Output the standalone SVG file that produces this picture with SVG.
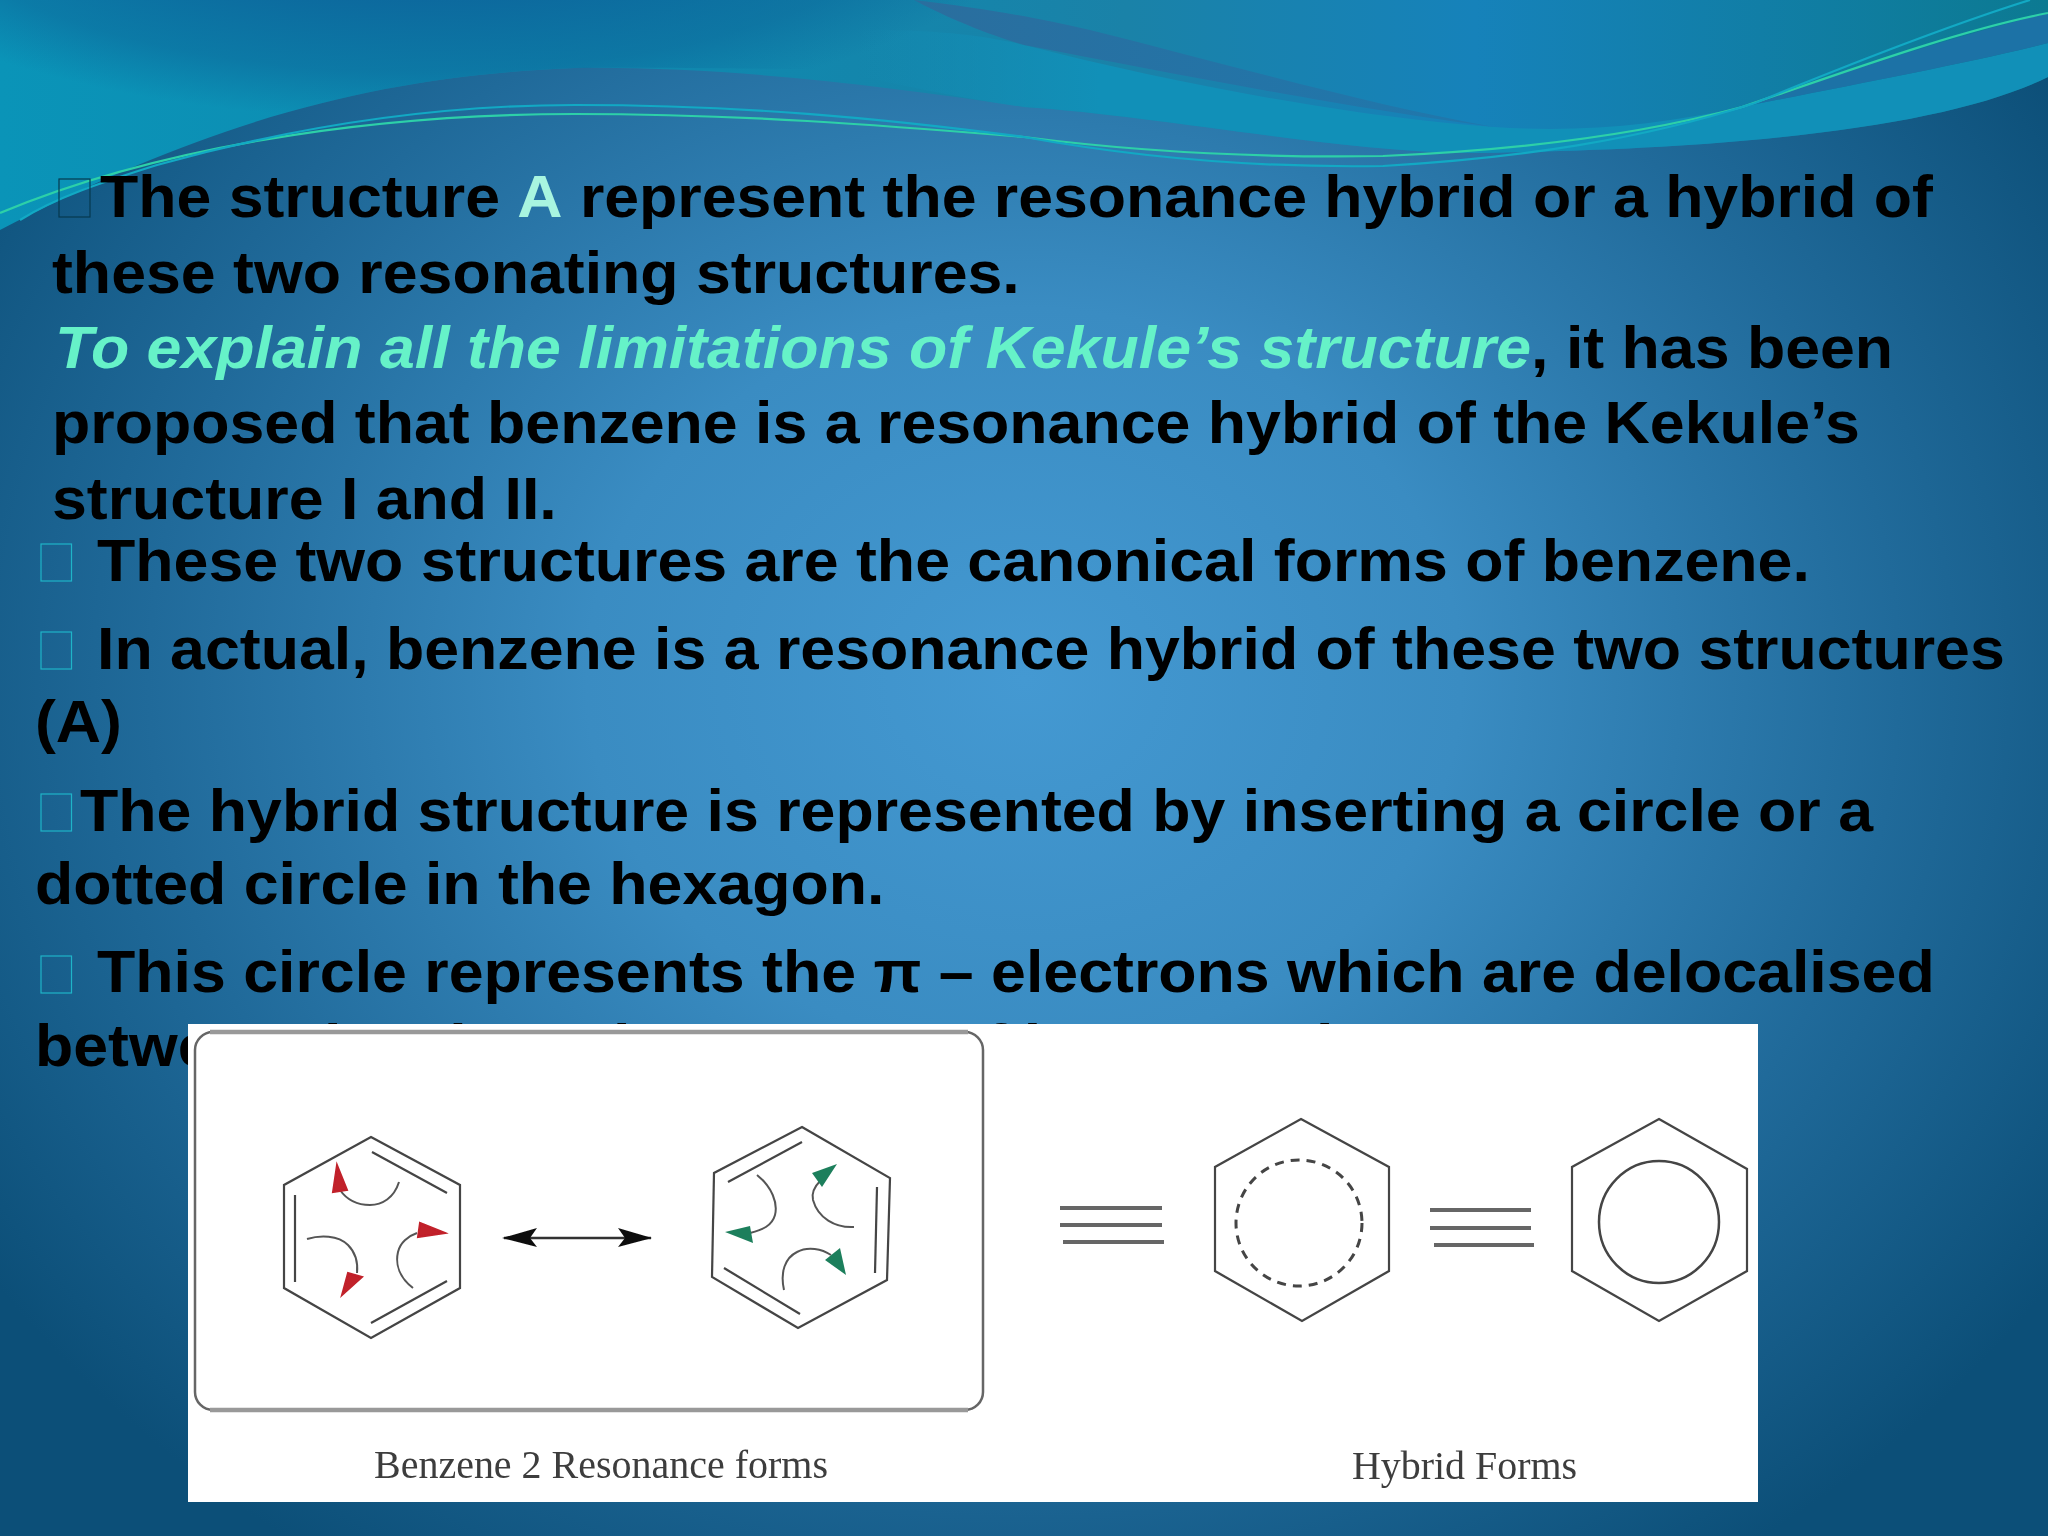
<svg xmlns="http://www.w3.org/2000/svg" width="2048" height="1536" viewBox="0 0 2048 1536">
<defs>
<radialGradient id="bg" gradientUnits="userSpaceOnUse" cx="1024" cy="680" r="1250" gradientTransform="translate(1024 680) scale(1 0.85) translate(-1024 -680)">
<stop offset="0" stop-color="#4499d2"/><stop offset="0.35" stop-color="#3a8cc2"/><stop offset="0.7" stop-color="#206a9a"/><stop offset="1" stop-color="#0c4f78"/>
</radialGradient>
<linearGradient id="top" x1="0" y1="0" x2="1" y2="0">
<stop offset="0" stop-color="#0a94b8"/><stop offset="0.35" stop-color="#1088ae"/><stop offset="0.55" stop-color="#1a82a8"/><stop offset="0.72" stop-color="#1682ba"/><stop offset="1" stop-color="#0c7a92"/>
</linearGradient>
<radialGradient id="dim" gradientUnits="userSpaceOnUse" cx="0" cy="0" r="400" gradientTransform="translate(420 -120) scale(1.6 .6)">
<stop offset="0" stop-color="#0c5f98"/><stop offset="0.5" stop-color="#0c669c" stop-opacity=".9"/><stop offset="0.8" stop-color="#0c6a9c" stop-opacity=".6"/><stop offset="1" stop-color="#0c6a9c" stop-opacity="0"/>
</radialGradient>
<linearGradient id="dark" x1="0" y1="0" x2="1" y2="0">
<stop offset="0" stop-color="#2a6e9e"/><stop offset="1" stop-color="#1f78ad"/>
</linearGradient>
<linearGradient id="band" gradientUnits="userSpaceOnUse" x1="860" y1="0" x2="1100" y2="0">
<stop offset="0" stop-color="#1190b8" stop-opacity="0"/><stop offset="1" stop-color="#1190b8"/>
</linearGradient>
<filter id="soft" x="-2%" y="-2%" width="104%" height="104%"><feGaussianBlur stdDeviation="0.7"/></filter>
<style>
text.t{font-family:"Liberation Sans",Arial,sans-serif;font-weight:700;font-size:60px;fill:#000}
.g{fill:#66f2c8}
.hex{fill:none;stroke:#444;stroke-width:2.200}
.bar{stroke:#666;stroke-width:4}
.arc{fill:none;stroke:#555;stroke-width:2}
.box{fill:none;stroke:#1fb4c8;stroke-width:1.2}
text.c{font-family:"Liberation Serif","Times New Roman",serif;font-size:39px;fill:#3c3c3c}
</style>
</defs>
<rect id="background" width="2048" height="1536" fill="url(#bg)"/>
<g id="swoosh">
<path d="M0 0H2048V77C1950 125 1750 150 1461 153C1330 150 1150 115 1024 107C880 85 720 66 575 68C400 75 230 110 0 230Z" fill="url(#top)"/>
<path d="M0 0H1100V60C900 75 700 66 575 68C400 75 230 110 0 230Z" fill="url(#dim)"/>
<path d="M1024 45C1180 85 1360 118 1494 127C1580 133 1660 125 1742 107C1850 85 1960 65 2048 43V77C1950 125 1750 150 1461 153C1330 150 1150 115 1024 107C960 98 900 85 860 76V30C920 30 970 32 1024 45Z" fill="url(#band)"/>
<path d="M914 0C980 8 1024 15 1090 30C1230 65 1370 105 1494 127C1360 110 1180 75 1024 45C980 32 940 14 914 0Z" fill="url(#dark)"/>
<path d="M1742 107C1850 85 1960 65 2048 43V13C1960 35 1850 70 1742 107Z" fill="#1c72a6"/>
<path d="M0 213C150 150 360 114 575 114C740 114 880 125 1024 137C1140 152 1260 158 1383 156C1520 150 1640 135 1742 107C1850 70 1960 30 2048 13" fill="none" stroke="#2dd0a8" stroke-width="2.200"/>
<path d="M20 220C60 195 110 180 157 165C300 125 440 105 575 105C740 105 880 118 1024 137C1140 158 1260 168 1383 166C1520 158 1640 140 1755 103C1860 60 1950 25 2030 0" fill="none" stroke="#12a9c4" stroke-width="2.200"/>
</g>
<g id="text">
<rect class="box" style="stroke:#06394f" x="59" y="179" width="31" height="38"/>
<text class="t" transform="translate(100 217) scale(1.0435 1)">The structure <tspan fill="#a8f5e0">A</tspan> represent the resonance hybrid or a hybrid of</text>
<text class="t" transform="translate(52 293) scale(1.0445 1)">these two resonating structures.</text>
<text class="t" transform="translate(55 368) scale(1.0445 1)"><tspan class="g" font-style="italic">To explain all the limitations of Kekule’s structure</tspan>, it has been</text>
<text class="t" transform="translate(52 443) scale(1.0445 1)">proposed that benzene is a resonance hybrid of the Kekule’s</text>
<text class="t" transform="translate(52 519) scale(1.0445 1)">structure I and II.</text>
<rect class="box" x="41" y="544" width="30.500" height="37"/>
<text class="t" transform="translate(97 581) scale(1.0445 1)">These two structures are the canonical forms of benzene.</text>
<rect class="box" x="41" y="632" width="30.500" height="37"/>
<text class="t" transform="translate(97 669) scale(1.0445 1)">In actual, benzene is a resonance hybrid of these two structures</text>
<text class="t" transform="translate(35 742) scale(1.0445 1)">(A)</text>
<rect class="box" x="41" y="794" width="30.500" height="37"/>
<text class="t" transform="translate(80 831) scale(1.0445 1)">The hybrid structure is represented by inserting a circle or a</text>
<text class="t" transform="translate(35 904) scale(1.0445 1)">dotted circle in the hexagon.</text>
<rect class="box" x="41" y="956" width="30.500" height="37"/>
<text class="t" transform="translate(97 992) scale(1.0445 1)">This circle represents the π – electrons which are delocalised</text>
<text class="t" transform="translate(35 1066) scale(1.0445 1)">between the six carbon atoms of benzene ring.</text>
</g>
<rect id="picture-ground" x="188" y="1024" width="1570" height="478" fill="#fff"/>
<g filter="url(#soft)">
<g id="picture">
<rect x="195" y="1032" width="788" height="378" rx="18" fill="none" stroke="#666" stroke-width="2.500"/>
<path d="M210 1032H968M210 1410H968" stroke="#999" stroke-width="4.500"/>
<text class="c" x="374" y="1478" textLength="454" lengthAdjust="spacingAndGlyphs">Benzene 2 Resonance forms</text>
<text class="c" x="1352" y="1479" textLength="225" lengthAdjust="spacingAndGlyphs">Hybrid Forms</text>
</g>
<g id="resonance-form-1">
<path class="hex" d="M371 1137L460 1185V1288L371 1338L284 1288V1185Z"/>
<path class="hex" d="M372 1152L447 1193M295 1195V1282M371 1323L447 1281"/>
<path class="arc" d="M399 1182C394 1198 382 1205 370 1205C356 1205 347 1200 340 1190"/>
<path class="arc" d="M307 1239C320 1235 338 1235 348 1245C356 1253 358 1263 357 1273"/>
<path class="arc" d="M413 1288C400 1278 395 1265 398 1252C400 1243 408 1236 417 1233"/>
<path fill="#c1202a" stroke="#c1202a" stroke-width="2" d="M337 1165L347 1190L333 1192ZM342 1295L348 1273L362 1277ZM445 1233L420 1223L418 1237Z"/>
</g>
<g id="resonance-form-2">
<path class="hex" d="M802 1127L890 1178L887 1280L798 1328L712 1277L714 1173Z"/>
<path class="hex" d="M728 1182L802 1142M877 1187L875 1273M724 1268L800 1314"/>
<path class="arc" d="M757 1175C772 1187 778 1203 775 1215C772 1226 762 1230 750 1233"/>
<path class="arc" d="M854 1227C835 1228 818 1218 813 1200C811 1192 815 1186 821 1180"/>
<path class="arc" d="M784 1290C780 1272 785 1258 797 1252C808 1246 822 1249 831 1255"/>
<path fill="#1f7f5c" d="M725 1232L750 1226L753 1243ZM837 1164L812 1173L822 1187ZM846 1275L825 1260L840 1248Z"/>
</g>
<g id="connectors">
<line x1="504" y1="1238" x2="651" y2="1238" stroke="#333" stroke-width="2.500"/>
<path fill="#111" d="M502 1238L537 1228L530 1238L537 1247ZM652 1238L618 1228L625 1238L618 1247Z"/>
<path class="bar" d="M1060 1208H1162M1060 1225H1162M1063 1242H1164"/>
<path class="bar" d="M1430 1210H1531M1430 1228H1531M1434 1245H1534"/>
</g>
<g id="hybrid-dotted">
<path class="hex" d="M1301 1119L1389 1167V1271L1302 1321L1215 1271V1167Z"/>
<ellipse cx="1299" cy="1223" rx="63" ry="63" fill="none" stroke="#444" stroke-width="3" stroke-dasharray="9 7"/>
</g>
<g id="hybrid-circle">
<path class="hex" d="M1659 1119L1747 1169V1271L1659 1321L1572 1271V1167Z"/>
<ellipse cx="1659" cy="1222" rx="60" ry="61" fill="none" stroke="#444" stroke-width="2.500"/>
</g>
</g>
</svg>
